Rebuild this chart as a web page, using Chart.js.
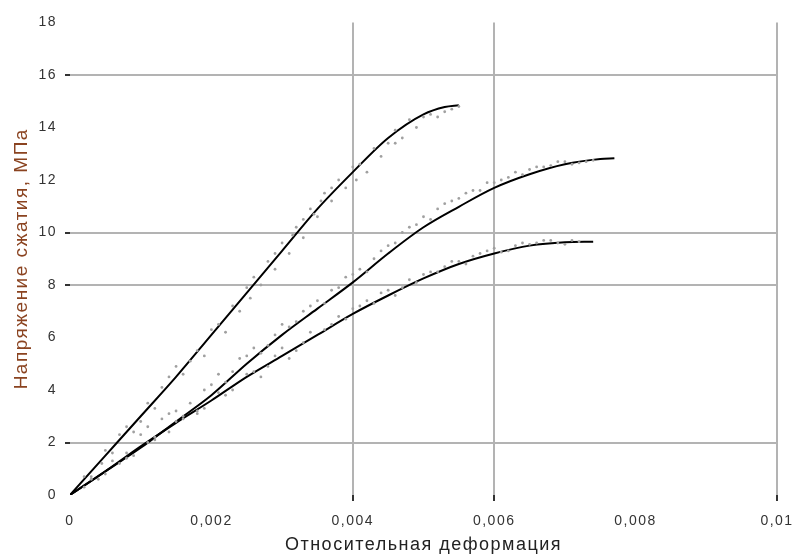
<!DOCTYPE html>
<html>
<head>
<meta charset="utf-8">
<script src="https://cdn.jsdelivr.net/npm/chart.js@4"></script>
<style>
  body { margin: 0; background: #fff; }
</style>
</head>
<body>
<canvas id="stressChart" width="794" height="560"></canvas>
<script>
// fitted curves (strain, stress MPa)
const curve1Strain = [0, 0.0005, 0.001, 0.0015, 0.002, 0.0025, 0.003, 0.0035, 0.004, 0.0045, 0.005, 0.0053, 0.0055];
const curve1Stress = [0, 1.5, 3.0, 4.5, 6.1, 7.7, 9.3, 10.9, 12.3, 13.6, 14.5, 14.78, 14.85];

const curve2Strain = [0, 0.0005, 0.001, 0.0015, 0.002, 0.0025, 0.003, 0.0035, 0.004, 0.0045, 0.005, 0.0055, 0.006, 0.0065, 0.007, 0.0075, 0.0077];
const curve2Stress = [0, 0.9, 1.8, 2.8, 3.8, 5.0, 6.1, 7.1, 8.1, 9.2, 10.2, 10.98, 11.7, 12.22, 12.6, 12.8, 12.83];

const curve3Strain = [0, 0.0005, 0.001, 0.0015, 0.002, 0.0025, 0.003, 0.0035, 0.004, 0.0045, 0.005, 0.0055, 0.006, 0.0065, 0.007, 0.0074];
const curve3Stress = [0, 0.9, 1.85, 2.75, 3.6, 4.5, 5.3, 6.1, 6.9, 7.6, 8.25, 8.8, 9.2, 9.5, 9.63, 9.65];

// measured points (gray)
const points1Strain = [0.0002, 0.0003, 0.0005, 0.0006, 0.0008, 0.0009, 0.0011, 0.0012, 0.0013, 0.0015, 0.0016, 0.0018, 0.0019, 0.0021, 0.0022, 0.0023, 0.0024, 0.0026, 0.0027, 0.0028, 0.0029, 0.003, 0.0031, 0.0032, 0.0033, 0.0034, 0.0035, 0.0036, 0.0037, 0.0038, 0.0039, 0.0041, 0.0042, 0.0043, 0.0044, 0.0046, 0.0047, 0.0048, 0.0049, 0.0051, 0.0052, 0.0054,
  0.00045, 0.0007, 0.001, 0.0014, 0.0017, 0.002, 0.0025, 0.00255, 0.0029, 0.00315, 0.0033, 0.00345, 0.00355, 0.0037, 0.004, 0.00405, 0.0045, 0.0046, 0.005, 0.0053, 0.0055];
const points1Stress = [0.7, 0.6, 1.7, 1.6, 2.6, 2.4, 3.5, 3.3, 4.1, 4.9, 4.6, 5.5, 5.3, 6.5, 6.2, 7.2, 7.0, 8.3, 8.0, 8.9, 8.6, 9.6, 9.2, 10.2, 9.8, 10.9, 10.6, 11.5, 11.2, 12.0, 11.7, 12.6, 12.3, 13.2, 12.9, 13.9, 13.6, 14.3, 14.0, 14.5, 14.4, 14.7,
  1.2, 2.3, 2.8, 4.5, 5.1, 6.3, 7.9, 7.5, 9.2, 9.9, 10.5, 10.7, 11.2, 11.7, 12.5, 12.0, 13.4, 13.4, 14.4, 14.6, 14.8];

const points2Strain = [0.0003, 0.0006, 0.0008, 0.001, 0.0012, 0.0013, 0.0015, 0.0017, 0.0018, 0.002, 0.0021, 0.0023, 0.0024, 0.0026, 0.0027, 0.0029, 0.003, 0.0032, 0.0033, 0.0035, 0.0036, 0.0038, 0.0039, 0.0041, 0.0042, 0.0044, 0.0045, 0.0047, 0.0048, 0.005, 0.0051, 0.0053, 0.0054, 0.0056, 0.0058, 0.0059, 0.0061, 0.0063, 0.0065, 0.0067, 0.0069, 0.0071, 0.0073,
  0.0011, 0.0014, 0.0016, 0.0019, 0.0022, 0.0025, 0.0028, 0.0031, 0.0034, 0.0037, 0.004, 0.0043, 0.0046, 0.0049, 0.0052, 0.0055, 0.0057, 0.006, 0.0062, 0.0064, 0.0066, 0.0068, 0.007, 0.0072, 0.0074];
const points2Stress = [0.7, 1.3, 1.4, 2.3, 2.2, 2.9, 3.2, 3.5, 3.1, 4.2, 4.6, 4.7, 5.2, 5.6, 5.4, 6.1, 6.5, 6.6, 7.0, 7.4, 7.3, 7.9, 8.3, 8.6, 8.5, 9.3, 9.5, 10.0, 10.2, 10.6, 10.5, 11.1, 11.2, 11.5, 11.6, 11.9, 12.0, 12.3, 12.4, 12.5, 12.7, 12.6, 12.7,
  2.6, 3.1, 2.9, 4.0, 4.3, 5.3, 5.7, 6.4, 7.2, 7.8, 8.4, 9.0, 9.6, 10.3, 10.9, 11.3, 11.6, 11.9, 12.1, 12.2, 12.5, 12.55, 12.7, 12.65, 12.75];

const points3Strain = [0.0002, 0.0004, 0.0007, 0.0009, 0.0011, 0.0014, 0.0016, 0.0019, 0.0021, 0.0023, 0.0026, 0.0028, 0.003, 0.0032, 0.0034, 0.0036, 0.0038, 0.004, 0.0042, 0.0044, 0.0046, 0.0048, 0.005, 0.0052, 0.0054, 0.0056, 0.0058, 0.006, 0.0062, 0.0064, 0.0066, 0.0068, 0.007, 0.0072,
  0.0005, 0.0008, 0.0012, 0.0015, 0.0018, 0.0022, 0.0025, 0.0027, 0.0029, 0.0031, 0.0033, 0.0037, 0.0039, 0.0041, 0.0043, 0.0045, 0.0047, 0.0049, 0.0051, 0.0053, 0.0055, 0.0057, 0.0059, 0.0061, 0.0063, 0.0065, 0.0067, 0.0069, 0.0071];
const points3Stress = [0.3, 0.6, 1.2, 1.5, 2.0, 2.4, 3.0, 3.3, 3.9, 4.0, 4.7, 4.9, 5.6, 5.5, 6.2, 6.3, 6.8, 7.1, 7.4, 7.7, 7.6, 8.2, 8.4, 8.5, 8.9, 8.8, 9.2, 9.4, 9.3, 9.6, 9.6, 9.7, 9.55, 9.65,
  0.8, 1.6, 2.1, 2.8, 3.2, 3.8, 4.6, 4.5, 5.3, 5.2, 5.8, 6.5, 6.7, 7.2, 7.3, 7.8, 7.9, 8.1, 8.5, 8.7, 8.9, 9.1, 9.3, 9.25, 9.5, 9.55, 9.7, 9.6, 9.7];

const xTickLabels = ['0', '0,002', '0,004', '0,006', '0,008', '0,01'];
const xGridAt = [0.004, 0.006, 0.01];
const yGridAt = [2, 8, 10, 16];

function toXY(xs, ys) {
  return xs.map((x, i) => ({ x: x, y: ys[i] }));
}

function pointSet(xs, ys) {
  return {
    data: toXY(xs, ys),
    showLine: false,
    pointRadius: 1.4,
    pointBackgroundColor: '#a0a0a0',
    pointBorderWidth: 0
  };
}

function curveSet(xs, ys) {
  return {
    data: toXY(xs, ys),
    showLine: true,
    borderColor: '#000',
    borderWidth: 2,
    pointRadius: 0,
    cubicInterpolationMode: 'monotone'
  };
}

const near = (v, list) => list.some(g => Math.abs(g - v) < 1e-9);

// wider letter spacing, like the reference text
const spacing = {
  id: 'spacing',
  beforeUpdate: c => { c.ctx.letterSpacing = '1.5px'; },
  beforeDraw: c => { c.ctx.letterSpacing = '1.5px'; }
};

const ctx = document.getElementById('stressChart');
new Chart(ctx, {
  type: 'scatter',
  data: {
    datasets: [
      pointSet(points1Strain, points1Stress),
      pointSet(points2Strain, points2Stress),
      pointSet(points3Strain, points3Stress),
      curveSet(curve1Strain, curve1Stress),
      curveSet(curve2Strain, curve2Stress),
      curveSet(curve3Strain, curve3Stress)
    ]
  },
  plugins: [spacing],
  options: {
    responsive: false,
    animation: false,
    layout: { padding: { top: 22.5, right: 0, left: 0, bottom: 0 } },
    plugins: { legend: { display: false }, tooltip: { enabled: false } },
    scales: {
      x: {
        min: 0,
        max: 0.01,
        border: { display: false },
        afterFit: s => { s.height = 65; s.paddingRight = 17; s.paddingLeft = 0; },
        grid: {
          color: c => near(c.tick.value, xGridAt) ? '#b3b3b3' : 'rgba(0,0,0,0)',
          tickColor: c => near(c.tick.value, xGridAt) ? '#333' : 'rgba(0,0,0,0)',
          lineWidth: 2,
          tickLength: 6
        },
        ticks: {
          stepSize: 0.002,
          maxRotation: 0,
          padding: 12,
          color: '#333',
          font: { family: 'Liberation Sans', size: 14 },
          callback: (v, i) => xTickLabels[i]
        },
        title: {
          display: true,
          text: 'Относительная деформация',
          color: '#222',
          font: { family: 'Liberation Sans', size: 18 },
          padding: { top: 5 }
        }
      },
      y: {
        min: 0,
        max: 18,
        border: { display: false },
        afterFit: s => { s.width = 70; },
        grid: {
          color: c => near(c.tick.value, yGridAt) ? '#b3b3b3' : 'rgba(0,0,0,0)',
          tickColor: c => near(c.tick.value, yGridAt) ? '#333' : 'rgba(0,0,0,0)',
          lineWidth: 2,
          tickLength: 5
        },
        ticks: {
          stepSize: 2,
          padding: 8,
          color: '#333',
          font: { family: 'Liberation Sans', size: 14 }
        },
        title: {
          display: true,
          text: 'Напряжение сжатия, МПа',
          color: '#8a4320',
          font: { family: 'Liberation Sans', size: 19 },
          padding: { top: 10, bottom: 4 }
        }
      }
    }
  }
});
</script>
</body>
</html>
